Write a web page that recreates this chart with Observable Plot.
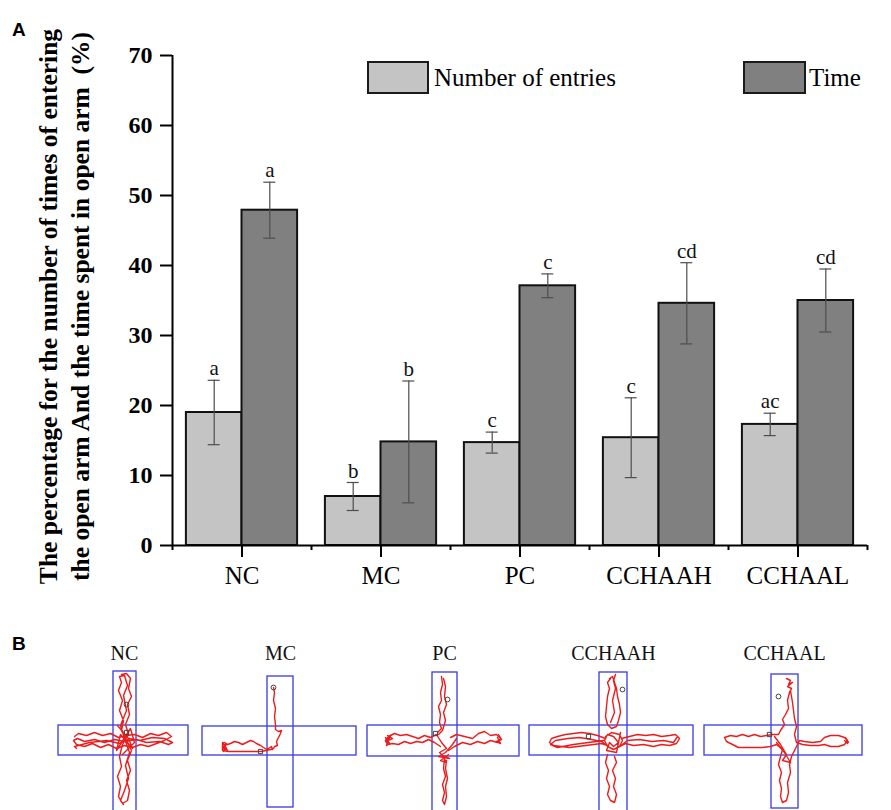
<!DOCTYPE html>
<html>
<head>
<meta charset="utf-8">
<script src="https://cdn.jsdelivr.net/npm/d3@7"></script>
<script src="https://cdn.jsdelivr.net/npm/@observablehq/plot@0.6"></script>
<style>
  body { margin: 0; background: #fff; }
  #root { position: relative; width: 891px; height: 810px; background: #fff; overflow: hidden; }
  .abs { position: absolute; }
  .serif { font-family: "Liberation Serif", "Times New Roman", serif; color: #000; }
  .panel { font-family: "Liberation Sans", Arial, sans-serif; font-weight: bold; font-size: 19px; color: #000; }
  .swatch { border: 2px solid #1a1a1a; box-sizing: border-box; }
</style>
</head>
<body>
<div id="root">
  <div id="chartA" class="abs" style="left:0;top:0"></div>
  <div class="abs panel" style="left:12px;top:19px">A</div>
  <div class="abs panel" style="left:12px;top:633px">B</div>
  <div class="abs swatch" style="left:367px;top:61px;width:62px;height:33px;background:#c4c4c4"></div>
  <div class="abs serif" style="left:434px;top:61px;line-height:33px;font-size:25px">Number of entries</div>
  <div class="abs swatch" style="left:743px;top:61px;width:63px;height:33px;background:#808080"></div>
  <div class="abs serif" style="left:809px;top:61px;line-height:33px;font-size:25px">Time</div>
  <div id="mazes"></div>
</div>
<script>
// ---------- Panel A data ----------
const groups = ["NC", "MC", "PC", "CCHAAH", "CCHAAL"];
const seriesNames = ["Number of entries", "Time"];
const entries = [19.0, 7.0, 14.7, 15.4, 17.3];
const entriesErr = [4.6, 2.0, 1.5, 5.7, 1.6];
const entriesLetters = ["a", "b", "c", "c", "ac"];
const timeVals = [47.9, 14.8, 37.1, 34.6, 35.0];
const timeErr = [4.0, 8.7, 1.7, 5.8, 4.5];
const timeLetters = ["a", "b", "c", "cd", "cd"];
const yTicks = [0, 10, 20, 30, 40, 50, 60, 70];
const yLabel = "The percentage for the number of times of entering\nthe open arm And the time spent in open arm  (%)";

// ---------- Panel B data (maze arms and tracks in arena units, centre = 0,0) ----------
const mazeNames = ["NC", "MC", "PC", "CCHAAH", "CCHAAL"];
const armsNC = [[-66, 64, -15, 15], [-11, 12, -69, 75]];
const armsMC = [[-78, 76, -14, 15], [-13, 13, -64, 67]];
const armsPC = [[-77, 75, -15, 16], [-12, 13, -68, 75]];
const armsCCHAAH = [[-84, 80, -15, 15], [-14, 14, -68, 75]];
const armsCCHAAL = [[-80, 78, -15, 15], [-13, 14, -66, 68]];

const trackNC = [
  [[-3,-66],[2,-67],[6,-62],[4,-52],[7,-44],[3,-36],[5,-26],[1,-16],[4,-6],[-2,4],[-5,16],[-3,26],[-7,36],[-4,46],[-6,56],[-2,63],[3,60],[5,50],[2,40],[6,30],[3,20],[7,10],[2,0],[-3,-10],[-1,-20],[-5,-30],[-2,-40],[-6,-50],[-3,-58],[-5,-64],[0,-65],[3,-55],[-1,-45],[2,-30],[-4,-15],[0,-2],[5,12],[1,25],[4,38],[0,50],[-4,60],[-1,64]],
  [[-50,-4],[-46,-7],[-38,-5],[-30,-8],[-22,-5],[-14,-7],[-6,-3],[2,-5],[10,-6],[18,-3],[26,-7],[34,-5],[42,-8],[47,-4],[40,0],[32,3],[24,6],[16,4],[8,7],[0,5],[-8,8],[-16,4],[-24,7],[-32,3],[-40,6],[-48,4],[-51,0],[-47,-2],[-40,1],[-30,-1],[-20,2],[-10,-1],[0,1],[12,-1],[22,2],[35,1],[44,4],[48,2],[40,-2],[28,-3],[15,0],[5,-2],[-5,3],[-18,0],[-35,2],[-50,6],[-48,8]],
  [[-7,-15],[4,-2],[8,8],[-4,-6],[-8,10],[6,-12],[10,2],[-2,14]]
];
const markersNC = [{x: 2, y: -36, s: "circle"}, {x: 2, y: -8, s: "square"}];

const trackMC = [
  [[-7,-53],[-6,-48],[-7,-40],[-5,-32],[-6,-24],[-5,-16],[-5,-11],[-2,-9],[1,-10],[0,-7],[-2,-3],[-4,1],[-3,5],[-6,6],[-7,8],[-10,9],[-14,10],[-20,11],[-28,11],[-36,11],[-44,11],[-52,11],[-58,10],[-58,6],[-58,3],[-56,2],[-53,4],[-50,3],[-46,1],[-42,2],[-38,4],[-34,2],[-30,0],[-27,1],[-24,3],[-20,5],[-17,7],[-14,9],[-12,8],[-9,6],[-8,9]],
  [[-58,2],[-55,8],[-57,11],[-54,3],[-58,7],[-53,10],[-56,4],[-58,9]]
];
const markersMC = [{x: -7, y: -53, s: "circle"}, {x: -20, y: 11, s: "square"}];

const trackPC = [
  [[-3,-64],[-2,-56],[-4,-48],[-3,-40],[-6,-34],[-4,-26],[-5,-18],[-3,-12],[-7,-8]],
  [[-1,-62],[1,-54],[0,-44],[2,-36],[-1,-28],[1,-20],[-2,-10],[-6,-6]],
  [[-8,-6],[-14,-3],[-20,-5],[-26,-2],[-32,-4],[-38,-6],[-44,-5],[-50,-7],[-56,-4],[-59,0],[-57,4],[-52,3],[-46,4],[-40,1],[-34,3],[-28,1],[-22,2],[-16,-1],[-10,2],[-4,6]],
  [[-59,-3],[-55,3],[-58,5],[-54,-5],[-59,1],[-52,-2],[-57,-5]],
  [[6,-3],[12,-6],[20,-4],[28,-2],[34,-7],[40,-9],[46,-5],[52,-6],[56,-2],[53,2],[46,0],[40,3],[33,1],[26,4],[18,2],[10,6],[4,10]],
  [[54,-6],[57,-1],[52,1],[56,3],[53,-3]],
  [[-8,-6],[-3,2],[2,8],[-5,12],[0,17],[4,14],[-4,20],[2,22],[-2,15],[5,18],[-6,16],[1,12],[8,4],[12,-2]],
  [[0,18],[-1,28],[1,36],[-2,44],[0,52],[-2,60],[0,64],[2,56],[1,46],[3,38],[1,28],[2,20]]
];
const markersPC = [{x: 3, y: -41, s: "circle"}, {x: -9, y: -7, s: "square"}];

const trackCCHAAH = [
  [[-4,-62],[-1,-64],[1,-58],[3,-52],[4,-44],[6,-36],[7,-28],[5,-20],[3,-14],[-2,-12],[-6,-16],[-8,-24],[-7,-34],[-6,-44],[-4,-52],[-6,-58],[-3,-62]],
  [[2,-66],[0,-60],[2,-52],[-1,-40],[1,-28],[-3,-18]],
  [[-8,-2],[-16,-5],[-24,-7],[-32,-8],[-40,-7],[-48,-6],[-56,-4],[-62,-2],[-64,2],[-60,5],[-52,6],[-44,7],[-36,6],[-28,5],[-20,4],[-12,3],[-6,5],[-12,1],[-22,-1],[-34,-3],[-46,-2],[-58,0],[-63,4],[-56,7],[-40,4],[-25,2],[-10,0]],
  [[8,-2],[16,-4],[24,-6],[32,-5],[40,-6],[48,-4],[56,-5],[62,-6],[66,-2],[63,3],[56,5],[48,4],[40,6],[30,4],[20,5],[12,3],[6,6],[14,0],[26,-1],[38,1],[50,0],[60,2],[64,-4]],
  [[-8,-4],[-2,-8],[6,-6],[9,0],[6,6],[0,9],[-6,6],[-9,0],[-6,-6],[0,-4],[5,2],[0,6],[-4,2],[-7,10],[3,12],[7,-8]],
  [[-6,14],[-8,22],[-5,30],[-7,38],[-4,46],[-6,54],[-3,60],[1,62],[3,54],[0,46],[2,38],[-1,30],[3,22],[1,16]]
];
const markersCCHAAH = [{x: 9, y: -51, s: "circle"}, {x: -25, y: -4, s: "square"}];

const trackCCHAAL = [
  [[2,-62],[6,-60],[4,-56],[8,-58],[3,-54],[7,-52],[5,-48]],
  [[5,-48],[3,-40],[4,-32],[1,-26],[-2,-21],[0,-16],[-4,-10],[-6,-6],[-12,-6],[-18,-5],[-24,-4],[-30,-6],[-36,-4],[-42,-6],[-48,-4],[-54,-5],[-60,-3],[-58,1],[-52,4],[-46,7],[-38,7],[-30,7],[-22,7],[-14,6],[-8,4],[-2,9],[-4,16],[-6,24],[-3,32],[-5,40],[-3,48],[-4,56],[-2,62],[2,60],[4,52],[3,42],[6,32],[5,24],[7,16],[10,10],[13,4],[15,0],[20,1],[28,2],[36,1],[40,-3],[46,-5],[54,-5],[60,-3],[63,0],[60,4],[54,6],[46,6],[40,4],[34,5],[26,5],[18,4],[12,2],[10,-6],[12,-14],[10,-22],[9,-30],[8,-38],[7,-44],[6,-50]],
  [[-10,-4],[-4,4],[2,14],[-2,20],[6,22],[0,12],[-8,2]],
  [[61,-3],[64,2],[62,-1],[63,3],[60,0]]
];
const markersCCHAAL = [{x: -6, y: -44, s: "circle"}, {x: -15, y: -6, s: "square"}];

// ---------- Panel A ----------
const W = 891, H = 600, ML = 172, MR = 24, MT = 55, MB = 55;
const bw = (W - ML - MR) / groups.length;   // band width of one group
const off = 0.2 * bw;                        // bar-centre offset from group centre

const rowsE = groups.map((g, i) => ({group: g, series: seriesNames[0], value: entries[i], lo: entries[i] - entriesErr[i], hi: entries[i] + entriesErr[i], letter: entriesLetters[i]}));
const rowsT = groups.map((g, i) => ({group: g, series: seriesNames[1], value: timeVals[i], lo: timeVals[i] - timeErr[i], hi: timeVals[i] + timeErr[i], letter: timeLetters[i]}));

const serif = '"Liberation Serif", "Times New Roman", serif';
const errColor = "#4d4d4d";
const capInset = bw / 2 - 6;

const chartA = Plot.plot({
  width: W, height: H,
  marginLeft: ML, marginRight: MR, marginTop: MT, marginBottom: MB,
  style: {fontFamily: serif, background: "transparent", overflow: "visible"},
  x: {type: "band", domain: groups, padding: 0, axis: null},
  y: {domain: [0, 70], axis: null},
  color: {domain: seriesNames, range: ["#c4c4c4", "#808080"]},
  marks: [
    Plot.barY(rowsE, {x: "group", y: "value", fill: "series", stroke: "#111", strokeWidth: 2, insetLeft: 0.1 * bw, insetRight: 0.5 * bw}),
    Plot.barY(rowsT, {x: "group", y: "value", fill: "series", stroke: "#111", strokeWidth: 2, insetLeft: 0.5 * bw, insetRight: 0.1 * bw}),
    Plot.ruleX(rowsE, {x: "group", y1: "lo", y2: "hi", dx: -off, stroke: errColor, strokeWidth: 1.2}),
    Plot.ruleX(rowsT, {x: "group", y1: "lo", y2: "hi", dx: off, stroke: errColor, strokeWidth: 1.2}),
    Plot.tickY(rowsE, {x: "group", y: "hi", dx: -off, insetLeft: capInset, insetRight: capInset, stroke: errColor, strokeWidth: 1.2}),
    Plot.tickY(rowsE, {x: "group", y: "lo", dx: -off, insetLeft: capInset, insetRight: capInset, stroke: errColor, strokeWidth: 1.2}),
    Plot.tickY(rowsT, {x: "group", y: "hi", dx: off, insetLeft: capInset, insetRight: capInset, stroke: errColor, strokeWidth: 1.2}),
    Plot.tickY(rowsT, {x: "group", y: "lo", dx: off, insetLeft: capInset, insetRight: capInset, stroke: errColor, strokeWidth: 1.2}),
    Plot.text(rowsE, {x: "group", y: "hi", text: "letter", dx: -off, dy: -5, lineAnchor: "bottom", fontSize: 21, fill: "#111"}),
    Plot.text(rowsT, {x: "group", y: "hi", text: "letter", dx: off, dy: -5, lineAnchor: "bottom", fontSize: 21, fill: "#111"}),
    // axes
    Plot.ruleY([0], {stroke: "#000", strokeWidth: 2}),
    Plot.ruleX([groups[0]], {dx: -bw / 2, y1: 0, y2: 70, stroke: "#000", strokeWidth: 2}),
    Plot.ruleX(groups, {dx: -bw / 2, y1: 0, y2: 0, insetBottom: -5, stroke: "#000", strokeWidth: 2}),
    Plot.ruleX([groups[groups.length - 1]], {dx: bw / 2, y1: 0, y2: 0, insetBottom: -5, stroke: "#000", strokeWidth: 2}),
    Plot.axisX({tickSize: 12, tickPadding: 9, fontSize: 25, label: null, strokeWidth: 2, stroke: "#000", fill: "#000"}),
    Plot.axisY({ticks: yTicks, tickSize: 12, tickPadding: 8, fontSize: 24, fontWeight: "bold", label: null, strokeWidth: 2, stroke: "#000", fill: "#000"}),
    Plot.text([yLabel], {frameAnchor: "left", textAnchor: "middle", rotate: -90, dx: -110, dy: 6, fontSize: 25.5, fontWeight: "bold", lineHeight: 1.28, fill: "#000"})
  ]
});
document.getElementById("chartA").appendChild(chartA);

// ---------- Panel B ----------
const mazeSets = [
  {name: mazeNames[0], arms: armsNC, track: trackNC, markers: markersNC},
  {name: mazeNames[1], arms: armsMC, track: trackMC, markers: markersMC},
  {name: mazeNames[2], arms: armsPC, track: trackPC, markers: markersPC},
  {name: mazeNames[3], arms: armsCCHAAH, track: trackCCHAAH, markers: markersCCHAAH},
  {name: mazeNames[4], arms: armsCCHAAL, track: trackCCHAAL, markers: markersCCHAAL}
];
const mazeCentres = [124, 280, 444, 613, 784];   // layout: horizontal centre of each maze picture
const mazeTop = 630;
const mazeBox = document.getElementById("mazes");
mazeSets.forEach((m, i) => {
  const armRows = m.arms.map(([x1, x2, y1, y2]) => ({x1, x2, y1, y2}));
  const trackRows = m.track.flatMap((p, k) => p.map(([x, y]) => ({x, y, path: k})));
  const p = Plot.plot({
    width: 170, height: 180, margin: 0,
    style: {fontFamily: serif, background: "transparent", overflow: "visible"},
    x: {domain: [-85, 85], axis: null},
    y: {domain: [-110, 70], reverse: true, axis: null},
    marks: [
      Plot.rect(armRows, {x1: "x1", x2: "x2", y1: "y1", y2: "y2", fill: "none", stroke: "#3a3ae0", strokeWidth: 1.3, clip: true}),
      Plot.line(trackRows, {x: "x", y: "y", z: "path", stroke: "#ec1c1c", strokeWidth: 1.4, clip: true}),
      Plot.dot(m.markers, {x: "x", y: "y", symbol: "s", r: 2.4, stroke: "#444", strokeWidth: 1, fill: "none"}),
      Plot.text([m.name], {frameAnchor: "top", dy: 15, fontSize: 20, fill: "#111"})
    ]
  });
  p.style.position = "absolute";
  p.style.left = (mazeCentres[i] - 85) + "px";
  p.style.top = mazeTop + "px";
  mazeBox.appendChild(p);
});
</script>
</body>
</html>
